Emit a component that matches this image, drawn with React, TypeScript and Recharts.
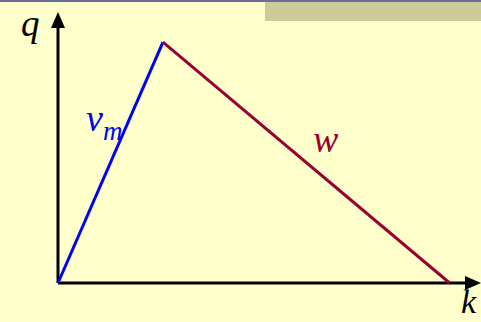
import React from 'react';
import { LineChart, Line, XAxis, YAxis, ReferenceLine } from 'recharts';

// density k, flow q (relative units)
const densities = [0, 26.8, 100];
const freeFlowBranch = [0, 100, null];
const congestedBranch = [null, 100, 0];

const kMax = 108;
const qMax = 112.5;

const data = densities.map((k, i) => ({
  k,
  vm: freeFlowBranch[i],
  w: congestedBranch[i],
}));

const ArrowAxis: React.FC<any> = ({ x1, y1, x2, y2 }) => {
  const ang = Math.atan2(y2 - y1, x2 - x1);
  const len = 16;
  const half = 7;
  const bx = x2 - len * Math.cos(ang);
  const by = y2 - len * Math.sin(ang);
  const px = -Math.sin(ang) * half;
  const py = Math.cos(ang) * half;
  return (
    <g>
      <line x1={x1} y1={y1} x2={bx} y2={by} stroke="#000" strokeWidth={3} />
      <polygon points={`${x2},${y2} ${bx + px},${by + py} ${bx - px},${by - py}`} fill="#000" />
    </g>
  );
};

const labelStyle: React.CSSProperties = {
  position: 'absolute',
  fontFamily: '"Liberation Serif", "Times New Roman", serif',
  fontStyle: 'italic',
  lineHeight: 1,
};

export default function App() {
  return (
    <div style={{ position: 'absolute', left: 0, top: 0, width: 481, height: 322, background: '#FFFFCC', overflow: 'hidden' }}>
      <div style={{ position: 'absolute', left: 0, top: 0, width: 481, height: 2, background: '#6B6B9E' }} />
      <div style={{ position: 'absolute', left: 265, top: 2, width: 216, height: 19, background: '#CCCC99' }} />
      <LineChart width={481} height={322} data={data} margin={{ top: 12, right: 0, left: 58, bottom: 39 }}>
        <XAxis dataKey="k" type="number" domain={[0, kMax]} hide />
        <YAxis type="number" domain={[0, qMax]} hide />
        <ReferenceLine segment={[{ x: 0, y: 0 }, { x: 0, y: qMax }]} shape={<ArrowAxis />} ifOverflow="visible" />
        <ReferenceLine segment={[{ x: 0, y: 0 }, { x: kMax, y: 0 }]} shape={<ArrowAxis />} ifOverflow="visible" />
        <Line dataKey="vm" stroke="#0000FF" strokeWidth={3} dot={false} isAnimationActive={false} connectNulls={false} />
        <Line dataKey="w" stroke="#990033" strokeWidth={3} dot={false} isAnimationActive={false} connectNulls={false} />
      </LineChart>
      <span style={{ ...labelStyle, left: 21, top: 5, fontSize: 37, color: '#000' }}>q</span>
      <span style={{ ...labelStyle, left: 461, top: 285, fontSize: 34, color: '#000' }}>k</span>
      <span style={{ ...labelStyle, left: 86, top: 99, fontSize: 38, color: '#0000FF' }}>
        v<span style={{ fontSize: 27, position: 'relative', top: 9 }}>m</span>
      </span>
      <span style={{ ...labelStyle, left: 313, top: 120, fontSize: 38, color: '#990033' }}>w</span>
    </div>
  );
}
